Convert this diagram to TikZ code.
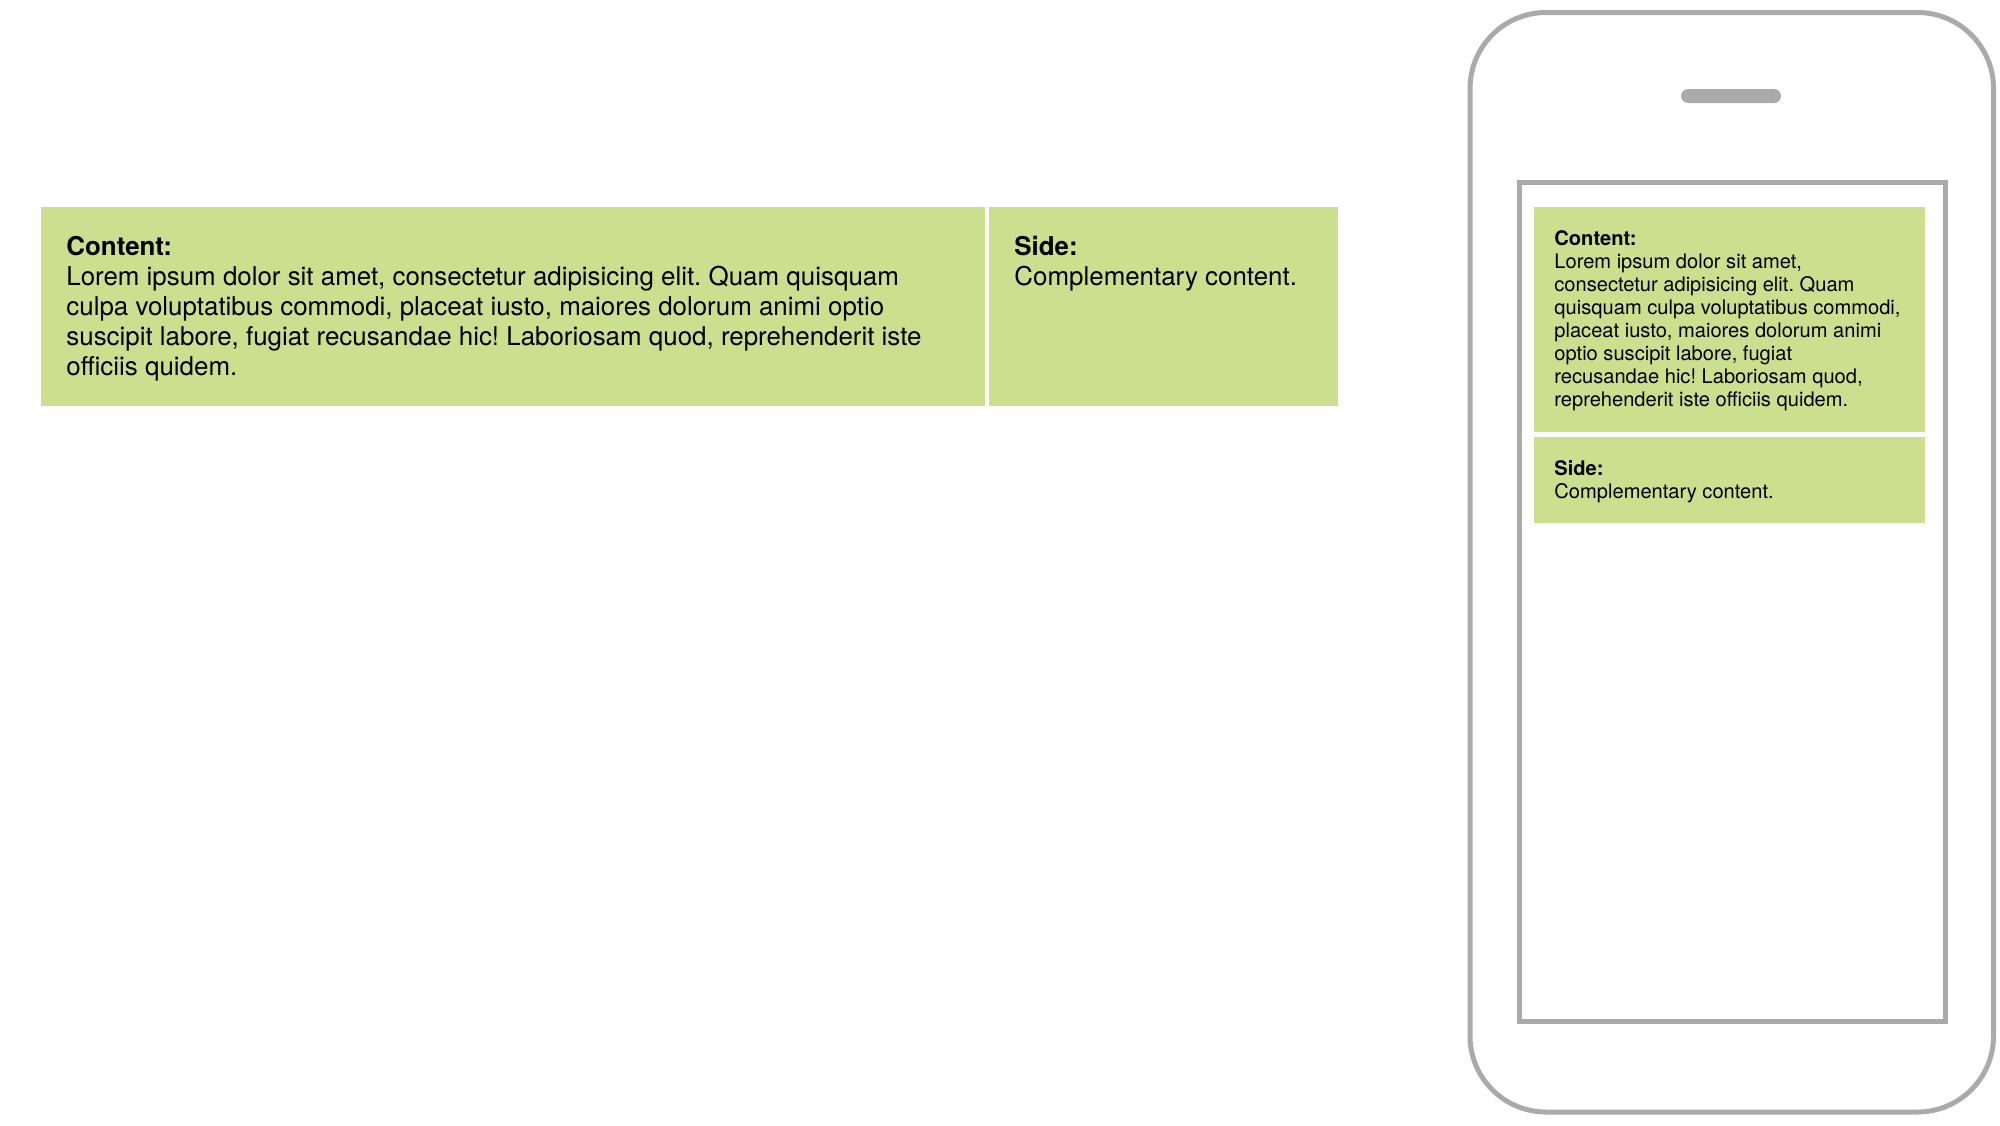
\documentclass[tikz,border=0pt]{standalone}
\usepackage{fontspec}
\setmainfont{TeX Gyre Heros}
\frenchspacing
\definecolor{boxgreen}{HTML}{CCDF8E}
\definecolor{phonegray}{HTML}{AAAAAA}
\begin{document}
\begin{tikzpicture}[x=0.5pt,y=-0.5pt,
  greenbox/.style={fill=boxgreen, draw=none},
  bigtext/.style={anchor=base west, inner sep=0pt, font=\fontsize{12.95pt}{15pt}\selectfont},
  smalltext/.style={anchor=base west, inner sep=0pt, font=\fontsize{10.05pt}{11.5pt}\selectfont},
  phoneline/.style={draw=phonegray, line width=2.5pt}]
\useasboundingbox (0,0) rectangle (2000,1125);
\fill[white] (0,0) rectangle (2000,1125);
% desktop layout
\path[greenbox] (41,206.7) rectangle (985,405.7);
\path[greenbox] (989,206.7) rectangle (1338,405.7);
\node[bigtext] (content) at (66,255) {\parbox[t]{480pt}{\raggedright\frenchspacing\textbf{Content:}\\
Lorem ipsum dolor sit amet, consectetur adipisicing elit. Quam quisquam\\
culpa voluptatibus commodi, placeat iusto, maiores dolorum animi optio\\
suscipit labore, fugiat recusandae hic! Laboriosam quod, reprehenderit iste\\
officiis quidem.}};
\node[bigtext] (side) at (1014,255) {\parbox[t]{160pt}{\raggedright\frenchspacing\textbf{Side:}\\
Complementary content.}};
% phone
\path[phoneline, rounded corners=38pt] (1470,12.5) rectangle (1993.5,1112);
\fill[phonegray, rounded corners=3.5pt] (1681,89) rectangle (1781,103);
\path[phoneline] (1519,182.5) rectangle (1945,1021.5);
\path[greenbox] (1533.5,206.7) rectangle (1925,431.7);
\path[greenbox] (1533.5,436.5) rectangle (1925,522.5);
\node[smalltext] (pcontent) at (1554,245.5) {\parbox[t]{190pt}{\raggedright\frenchspacing\textbf{Content:}\\
Lorem ipsum dolor sit amet,\\
consectetur adipisicing elit. Quam\\
quisquam culpa voluptatibus commodi,\\
placeat iusto, maiores dolorum animi\\
optio suscipit labore, fugiat\\
recusandae hic! Laboriosam quod,\\
reprehenderit iste officiis quidem.}};
\node[smalltext] (pside) at (1554,475) {\parbox[t]{190pt}{\raggedright\frenchspacing\textbf{Side:}\\
Complementary content.}};
\end{tikzpicture}
\end{document}
